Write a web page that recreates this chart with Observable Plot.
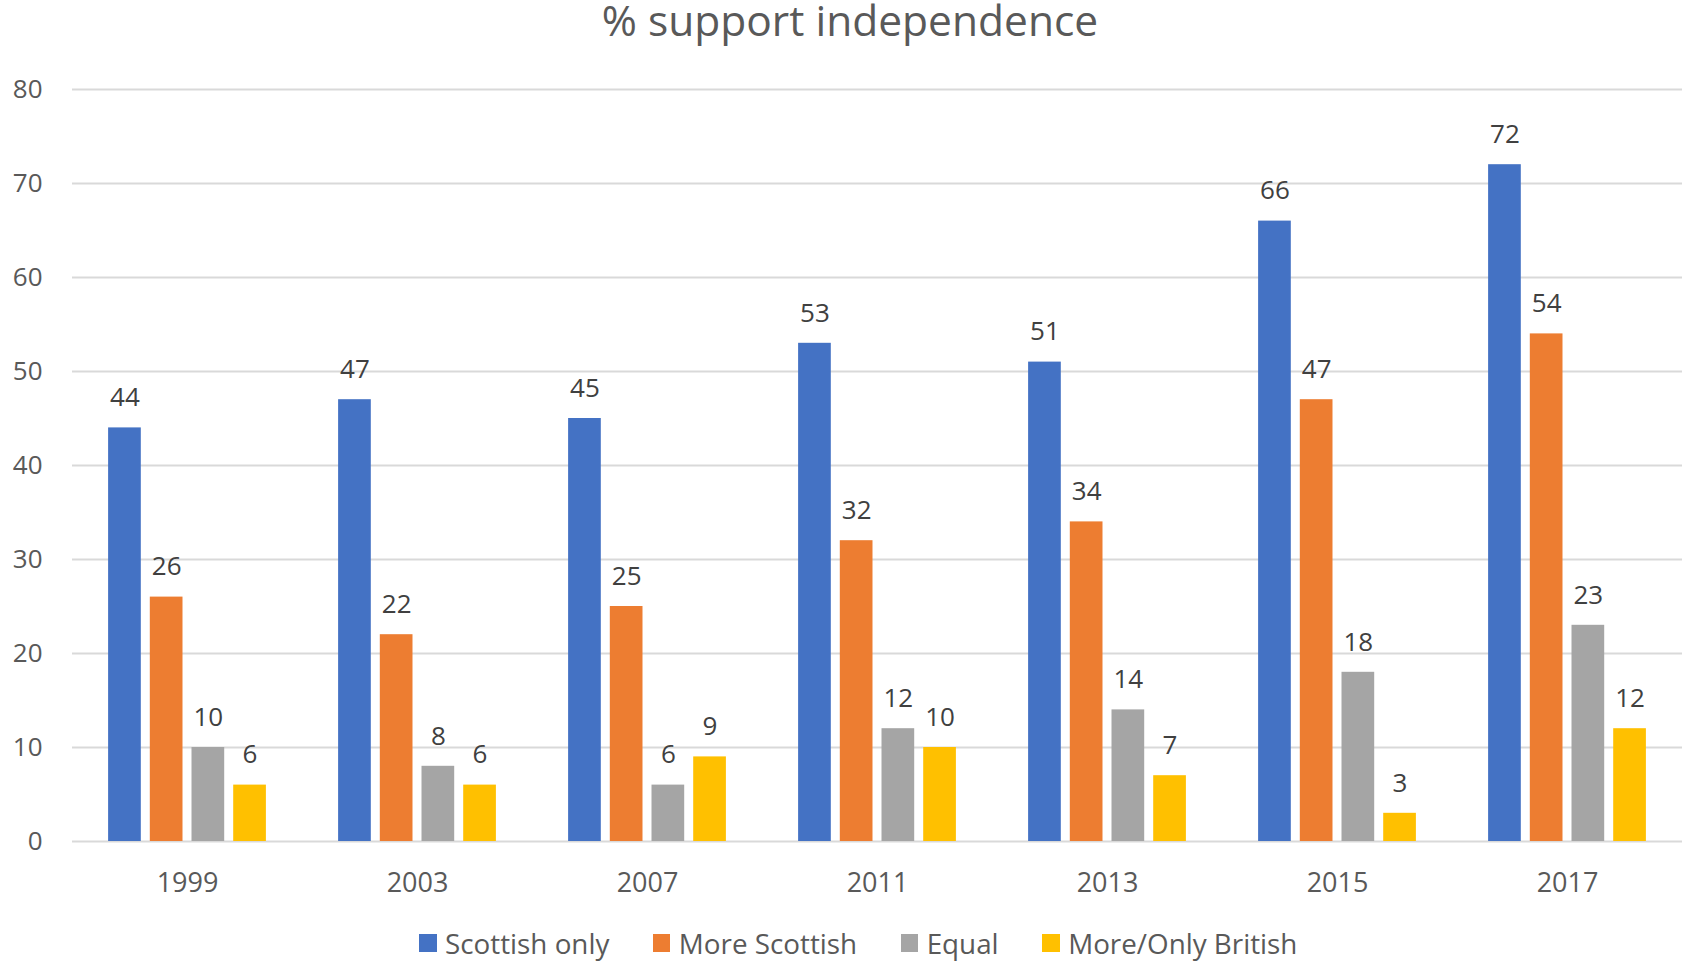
<!DOCTYPE html>
<html>
<head>
<meta charset="utf-8">
<script src="https://cdn.jsdelivr.net/npm/d3@7"></script>
<script src="https://cdn.jsdelivr.net/npm/@observablehq/plot@0.6"></script>
<style>
  html, body { margin: 0; padding: 0; background: #fff; overflow: hidden; }
  body { width: 1682px; height: 962px; position: relative; font-family: "Open Sans", sans-serif; }
  #title { position: absolute; top: 0; left: 0; width: 1700px; text-align: center;
           font-size: 42.5px; line-height: 40px; color: #595959; white-space: nowrap; }
  #chart { position: absolute; top: 50px; left: 0; }
  #legend { position: absolute; top: 924px; left: 419px; display: flex; align-items: center; white-space: nowrap; }
  .item { display: flex; align-items: center; margin-right: 43.5px; }
  .sw { width: 17.5px; height: 17.5px; margin-right: 8.5px; }
  .lab { font-size: 27.8px; color: #595959; }
</style>
</head>
<body>
<div id="title">% support independence</div>
<div id="chart"></div>
<div id="legend"></div>
<script>
const years = ["1999", "2003", "2007", "2011", "2013", "2015", "2017"];
const series = ["Scottish only", "More Scottish", "Equal", "More/Only British"];
const colors = ["#4472C4", "#ED7D31", "#A5A5A5", "#FFC000"];
const scottishOnly = [44, 47, 45, 53, 51, 66, 72];
const moreScottish = [26, 22, 25, 32, 34, 47, 54];
const equal = [10, 8, 6, 12, 14, 18, 23];
const moreOnlyBritish = [6, 6, 9, 10, 7, 3, 12];
const yTicks = [0, 10, 20, 30, 40, 50, 60, 70, 80];

const seriesValues = [scottishOnly, moreScottish, equal, moreOnlyBritish];
const rows = [];
years.forEach((yr, i) => {
  series.forEach((s, j) => rows.push({year: yr, series: s, value: seriesValues[j][i]}));
});

const chart = Plot.plot({
  width: 1682,
  height: 860,
  marginLeft: 72,
  marginRight: 0,
  marginTop: 39,
  marginBottom: 69,
  style: {fontFamily: "Open Sans", fontSize: "26px", background: "white", color: "#595959"},
  fx: {domain: years, padding: 0, label: null},
  x: {domain: series, paddingInner: 0.216, paddingOuter: 0.866, round: false, axis: null},
  y: {domain: [0, 80], label: null},
  color: {domain: series, range: colors},
  marks: [
    Plot.gridY(yTicks, {stroke: "#D9D9D9", strokeOpacity: 1, strokeWidth: 2}),
    Plot.axisY(yTicks, {tickSize: 0, tickPadding: 30, fontSize: 26, fill: "#595959", label: null}),
    Plot.axisFx({anchor: "bottom", tickSize: 0, tickPadding: 31, fontSize: 27, fill: "#595959", label: null}),
    Plot.barY(rows, {fx: "year", x: "series", y: "value", fill: "series"}),
    Plot.text(rows, {fx: "year", x: "series", y: "value", text: d => String(d.value),
      dy: -30, lineAnchor: "middle", fill: "#404040", fontSize: 26})
  ]
});
document.getElementById("chart").appendChild(chart);

const legend = document.getElementById("legend");
series.forEach((s, j) => {
  const it = document.createElement("div");
  it.className = "item";
  const sw = document.createElement("div");
  sw.className = "sw";
  sw.style.background = colors[j];
  const lab = document.createElement("span");
  lab.className = "lab";
  lab.textContent = s;
  it.appendChild(sw);
  it.appendChild(lab);
  legend.appendChild(it);
});
</script>
</body>
</html>
